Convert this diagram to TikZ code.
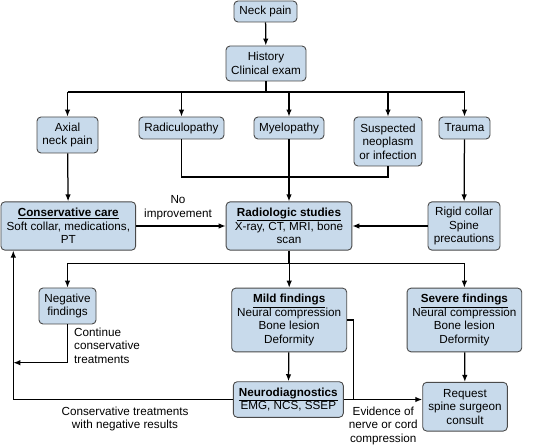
\documentclass[tikz,border=0pt]{standalone}
\usepackage{fontspec}
\setmainfont{Liberation Sans}
\usetikzlibrary{arrows.meta,positioning,calc}
\definecolor{boite}{HTML}{C8DAEB}
\definecolor{bord}{HTML}{4A4A4A}

\begin{document}
\begin{tikzpicture}[x=1pt,y=-1pt,
  box/.style={draw=bord,fill=boite,rounded corners=4pt,line width=0.9pt,align=center,inner sep=1pt,font=\fontsize{11.7}{13.4}\selectfont},
  lbl/.style={align=center,inner sep=0pt,font=\fontsize{11.7}{13.4}\selectfont},
  fl/.style={-{Latex[length=7pt,width=5.5pt]},line width=1.25pt},
  li/.style={line width=1.25pt}]
  \useasboundingbox (0,0) rectangle (541,446);
  % boxes
  \node[box,minimum width=63,minimum height=21] (neck) at (265.5,11.5) {Neck pain};
  \node[box,minimum width=80,minimum height=35] (hist) at (266,63.5) {History\\Clinical exam};
  \node[box,minimum width=61,minimum height=36] (axial) at (67.5,135) {Axial\\neck pain};
  \node[box,minimum width=85,minimum height=22] (radic) at (181.5,128) {Radiculopathy};
  \node[box,minimum width=70,minimum height=22] (myelo) at (289,128) {Myelopathy};
  \node[box,minimum width=68,minimum height=49] (neo) at (388,141.5) {Suspected\\neoplasm\\or infection};
  \node[box,minimum width=51,minimum height=22] (trauma) at (464.5,128) {Trauma};
  \node[box,minimum width=134.7,minimum height=48.3] (cons) at (68.3,226) {\underline{\textbf{Conservative care}}\\Soft collar, medications,\\PT};
  \node[box,minimum width=125.7,minimum height=48.3] (radio) at (289,226) {\underline{\textbf{Radiologic studies}}\\X-ray, CT, MRI, bone\\scan};
  \node[box,minimum width=72,minimum height=48.3] (rigid) at (464,226) {Rigid collar\\Spine\\precautions};
  \node[box,minimum width=57,minimum height=36] (neg) at (67.5,306) {Negative\\findings};
  \node[box,minimum width=115,minimum height=63.7] (mild) at (289.2,320) {\underline{\textbf{Mild findings}}\\Neural compression\\Bone lesion\\Deformity};
  \node[box,minimum width=114.7,minimum height=63.7] (severe) at (464.4,320) {\underline{\textbf{Severe findings}}\\Neural compression\\Bone lesion\\Deformity};
  \node[box,minimum width=110,minimum height=35.6] (neuro) at (288.3,399.5) {\underline{\textbf{Neurodiagnostics}}\\EMG, NCS, SSEP};
  \node[box,minimum width=84.6,minimum height=48.7] (req) at (465,406.7) {Request\\spine surgeon\\consult};
  % labels
  \node[lbl] (noimp) at (178,207.5) {No\\improvement};
  \node[lbl,align=left,anchor=west] (cont) at (74,345.7) {Continue\\conservative\\treatments};
  \node[lbl] (ctneg) at (125,418.7) {Conservative treatments\\with negative results};
  \node[lbl] (evid) at (383.3,425.7) {Evidence of\\nerve or cord\\compression};
  % junctions
  \coordinate (j1) at (266,92);
  \coordinate (j2) at (289,177);
  \coordinate (j3) at (289,263.3);
  \coordinate (j4) at (353.3,399.5);
  \coordinate (rn) at (13.3,362.7);
  \coordinate (rt) at (13.3,399.5);
  % connectors
  \draw[fl] (neck) -- (hist);
  \draw[li] (hist.south) -- (j1);
  \draw[li] (j1 -| axial) -- (j1 -| trauma);
  \foreach \n in {axial,radic,myelo,neo,trauma}
    \draw[fl] (j1 -| \n) -- (\n.north);
  \draw[li] (radic.south) |- (neo.south |- j2) -- (neo.south);
  \draw[fl] (myelo) -- (radio);
  \draw[fl] (axial) -- (cons);
  \draw[fl] (trauma) -- (rigid);
  \draw[fl] (cons) -- (radio);
  \draw[fl] (rigid) -- (radio);
  \draw[li] (radio.south) -- (j3);
  \draw[li] (j3 -| neg) -- (j3 -| severe);
  \foreach \n in {neg,mild,severe}
    \draw[fl] (j3 -| \n) -- (\n.north);
  \draw[fl] (neg.south) |- (rn);
  \draw[fl] (neuro.west) -- (rt) -- (rt |- cons.south);
  \draw[fl] (mild) -- (neuro);
  \draw[fl] (severe) -- (req);
  \draw[li] (mild.east) -| (j4);
  \draw[fl] (neuro.east) -- (req.west |- neuro.east);
\end{tikzpicture}
\end{document}
